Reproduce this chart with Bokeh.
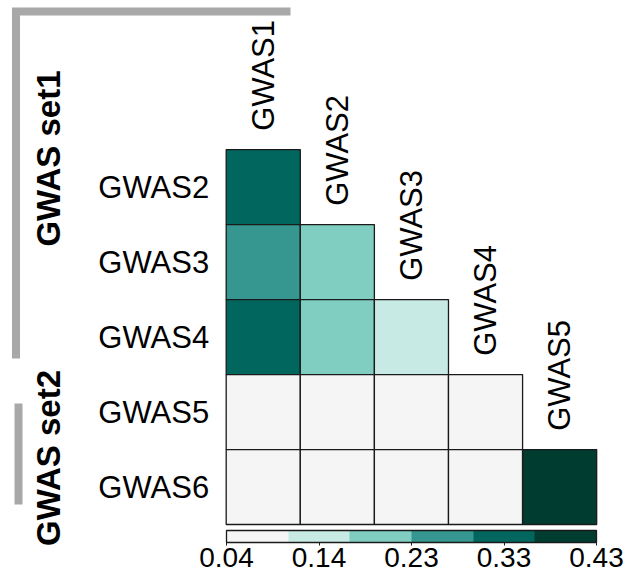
import numpy as np
from bokeh.plotting import figure
from bokeh.models import (ColumnDataSource, LinearColorMapper, ColorBar,
                          FixedTicker, Range1d)
from bokeh.transform import transform
from bokeh.core.properties import value
from bokeh.embed import file_html
from bokeh.resources import INLINE

# ---------------- data ----------------
row_traits = ["GWAS2", "GWAS3", "GWAS4", "GWAS5", "GWAS6"]
col_traits = ["GWAS1", "GWAS2", "GWAS3", "GWAS4", "GWAS5"]
corr_gwas2 = [0.33]
corr_gwas3 = [0.27, 0.20]
corr_gwas4 = [0.34, 0.19, 0.13]
corr_gwas5 = [0.04, 0.06, 0.05, 0.07]
corr_gwas6 = [0.06, 0.05, 0.07, 0.06, 0.43]
palette = ["#f5f5f5", "#c7eae5", "#80cdc1", "#35978f", "#01665e", "#003c30"]
cbar_low, cbar_high = 0.04, 0.43
cbar_ticks = [0.04, 0.1375, 0.235, 0.3325, 0.43]
cbar_labels = ["0.04", "0.14", "0.23", "0.33", "0.43"]
group_names = ["GWAS set1", "GWAS set2"]

rows_vals = [corr_gwas2, corr_gwas3, corr_gwas4, corr_gwas5, corr_gwas6]
n = len(row_traits)

xs, ys, vals = [], [], []
for i, rv in enumerate(rows_vals):
    for j, v in enumerate(rv):
        xs.append(j + 0.5)
        ys.append(n - 1 - i + 0.5)
        vals.append(v)
cells = ColumnDataSource(dict(x=xs, y=ys, val=vals))

mapper = LinearColorMapper(palette=palette, low=cbar_low, high=cbar_high)

FONT = value("Liberation Sans")

p = figure(width=627, height=576,
           x_range=Range1d(-3.046, 5.416), y_range=Range1d(-0.693, 6.987),
           output_backend="svg", toolbar_location=None, min_border=0,
           x_axis_location=None, y_axis_location=None)
p.grid.visible = False
p.outline_line_color = None
p.background_fill_color = "white"

p.rect(x="x", y="y", width=1, height=1, source=cells,
       fill_color=transform("val", mapper), line_color="#1a1a1a",
       line_width=1.3)

# row labels
p.text(x=[-0.23] * n, y=[n - 1 - i + 0.5 for i in range(n)], text=row_traits,
       text_align="right", text_baseline="middle", text_font=FONT,
       text_font_size="31px", text_color="black")

# column labels (rotated)
p.text(x=[j + 0.5 for j in range(n)], y=[n - j + 0.25 for j in range(n)],
       text=col_traits, angle=np.pi / 2, text_align="left",
       text_baseline="middle", text_font=FONT, text_font_size="31px",
       text_color="black")

# group bars
p.line(x=[0.868, -2.837, -2.837], y=[6.84, 6.84, 2.213], line_color="#a8a8a8",
       line_width=8, line_join="miter", line_cap="butt")
p.line(x=[-2.803, -2.803], y=[1.613, 0.267], line_color="#a8a8a8",
       line_width=8, line_cap="butt")

# group labels
p.text(x=[-2.4, -2.4], y=[4.88, 0.887], text=group_names, angle=np.pi / 2,
       text_align="center", text_baseline="middle", text_font=FONT,
       text_font_size="33px", text_font_style="bold", text_color="black")

# colour bar
cb = ColorBar(color_mapper=mapper, orientation="horizontal",
              location=(226, 7), width=370, height=12, padding=0,
              ticker=FixedTicker(ticks=cbar_ticks),
              major_label_overrides={t: l for t, l in zip(cbar_ticks, cbar_labels)},
              major_label_text_font="Liberation Sans",
              major_label_text_font_size="28px",
              major_label_text_color="black",
              bar_line_color="#1a1a1a", bar_line_width=1.3,
              major_tick_line_color="#1a1a1a", major_tick_in=0,
              major_tick_out=3, label_standoff=2,
              background_fill_alpha=0, border_line_alpha=0)
p.add_layout(cb)

open("out.html", "w").write(file_html(p, INLINE))
